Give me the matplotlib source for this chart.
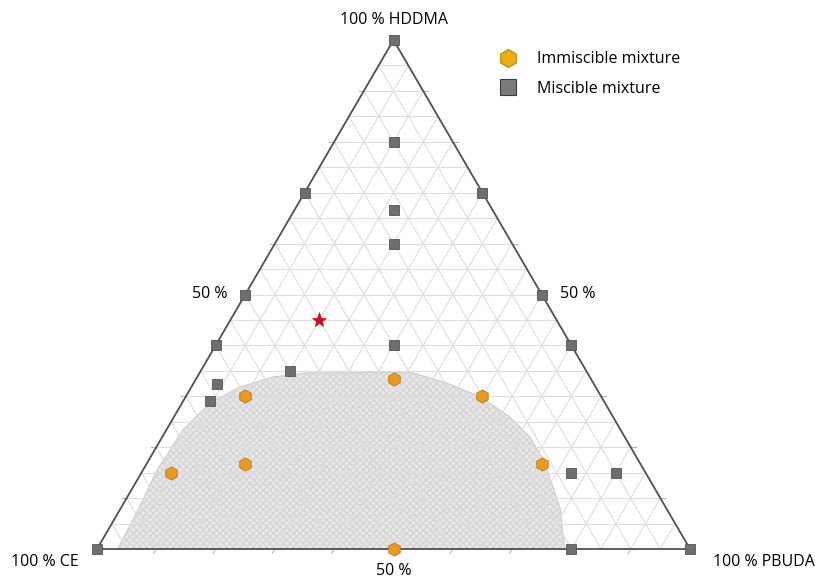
import numpy as np
import matplotlib.pyplot as plt
from matplotlib.lines import Line2D

plt.rcParams['font.family'] = ['Open Sans', 'DejaVu Sans']

# compositions as (CE, PBUDA, HDDMA) fractions
miscible_ce = [0.0, 0.1, 0.3, 0.0, 1/6, 0.2, 0.5, 0.0, 0.6, 0.3, 0.0, 0.5, 0.635, 0.665, 0.125, 0.05, 0.2, 0.0, 1.0]
miscible_pb = [0.0, 0.1, 0.0, 0.3, 1/6, 0.2, 0.0, 0.5, 0.0, 0.3, 0.6, 0.15, 0.04, 0.045, 0.725, 0.8, 0.8, 1.0, 0.0]
miscible_hd = [1.0, 0.8, 0.7, 0.7, 2/3, 0.6, 0.5, 0.5, 0.4, 0.4, 0.4, 0.35, 0.325, 0.29, 0.15, 0.15, 0.0, 0.0, 0.0]

immiscible_ce = [1/3, 0.6, 0.2, 0.8, 2/3, 1/6, 0.5]
immiscible_pb = [1/3, 0.1, 0.5, 0.05, 1/6, 2/3, 0.5]
immiscible_hd = [1/3, 0.3, 0.3, 0.15, 1/6, 1/6, 0.0]

star_pb, star_hd = 0.15, 0.45

# outline of the two-phase region (PBUDA, HDDMA)
region_pb = [0.035, 0.031, 0.024, 0.028, 0.047, 0.082, 0.128, 0.181, 0.237, 0.300, 0.360,
             0.427, 0.497, 0.567, 0.620, 0.665, 0.708, 0.743, 0.770, 0.789]
region_hd = [0.0, 0.077, 0.155, 0.234, 0.287, 0.318, 0.338, 0.346, 0.346, 0.347, 0.346,
             0.326, 0.299, 0.259, 0.220, 0.175, 0.122, 0.077, 0.031, 0.0]

S3 = np.sqrt(3) / 2


def to_xy(pb, hd):
    pb = np.asarray(pb, dtype=float)
    hd = np.asarray(hd, dtype=float)
    return pb + hd / 2, hd * S3


W, H = 815, 581
fig = plt.figure(figsize=(W / 100, H / 100), dpi=100)
ax = fig.add_axes([0, 0, 1, 1])
sx = 1 / 593
sy = S3 / 509
ax.set_xlim(-97 * sx, (W - 97) * sx)
ax.set_ylim(-(H - 549) * sy, S3 + 40 * sy)
ax.axis('off')

# shaded immiscibility region
rx, ry = to_xy(region_pb, region_hd)
ax.fill(rx, ry, facecolor='#e9e9e9', edgecolor='#cacaca', lw=0.8, zorder=1)
ax.fill(rx, ry, facecolor='none', edgecolor='#d6d6d6', hatch='xxxxx', lw=0, zorder=1)

# 5 % grid in all three directions
for i in range(1, 20):
    f = i / 20
    for pb, hd in [([0, 1 - f], [f, f]),
                   ([f, f], [0, 1 - f]),
                   ([0, 1 - f], [1 - f, 0])]:
        gx, gy = to_xy(pb, hd)
        ax.plot(gx, gy, color='#dedede', lw=0.8, zorder=2)

# 10 % ticks
tl = 5 * sx
tick_c = '#b4b4b4'
for i in range(1, 10):
    f = i / 10
    x0, y0 = to_xy(f, 0)
    ax.plot([x0, x0 - tl * 0.5], [y0, y0 - tl * S3], color=tick_c, lw=0.8, zorder=2)
    x1, y1 = to_xy(0, f)
    ax.plot([x1, x1 - tl], [y1, y1], color=tick_c, lw=0.8, zorder=2)
    x2, y2 = to_xy(1 - f, f)
    ax.plot([x2, x2 + tl], [y2, y2], color=tick_c, lw=0.8, zorder=2)

# triangle frame
tx, ty = to_xy([0, 1, 0, 0], [0, 0, 1, 0])
ax.plot(tx, ty, color='#505050', lw=1.3, zorder=3)

mx, my = to_xy(miscible_pb, miscible_hd)
ax.plot(mx, my, 's', ms=7, mfc='#6e6e6e', mec='#555555', mew=0.6, ls='none', zorder=4)

ix, iy = to_xy(immiscible_pb, immiscible_hd)
ax.plot(ix, iy, 'h', ms=9.5, mfc='#ec9a1e', mec='#b8761a', mew=0.6, ls='none', zorder=4)

stx, sty = to_xy(star_pb, star_hd)
ax.plot(stx, sty, '*', ms=11, mfc='#e3001b', mec='#c00010', mew=0.4, zorder=4)

# corner and midpoint labels
fs = 11.5
ax.text(0.5, S3 + 20 * sy, '100 % HDDMA', ha='center', va='center', fontsize=fs)
ax.text(-52 * sx, -13 * sy, '100 % CE', ha='center', va='center', fontsize=fs)
ax.text(1 + 74 * sx, -13 * sy, '100 % PBUDA', ha='center', va='center', fontsize=fs)
lx, ly = to_xy(0, 0.5)
ax.text(lx - 18 * sx, ly, '50 %', ha='right', va='center', fontsize=fs)
rx2, ry2 = to_xy(0.5, 0.5)
ax.text(rx2 + 18 * sx, ry2, '50 %', ha='left', va='center', fontsize=fs)
ax.text(0.5, -22 * sy, '50 %', ha='center', va='center', fontsize=fs)

handles = [
    Line2D([], [], marker='h', ls='none', ms=13, mfc='#ebad10', mec='#b88a10', mew=0.8),
    Line2D([], [], marker='s', ls='none', ms=11, mfc='#7a7a7a', mec='#3c3c3c', mew=0.8),
]
ax.legend(handles, ['Immiscible mixture', 'Miscible mixture'],
          loc='upper left', bbox_to_anchor=(486 / W, 1 - 45 / H),
          frameon=False, fontsize=fs, handletextpad=0.8, labelspacing=0.85,
          borderaxespad=0)

fig.savefig('out.png', dpi=100)
